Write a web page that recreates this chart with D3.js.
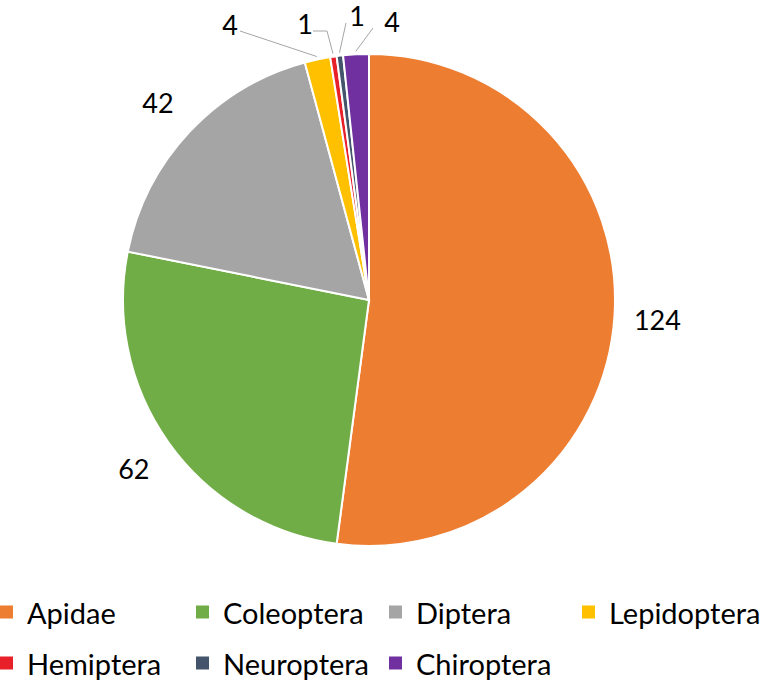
<!DOCTYPE html>
<html>
<head>
<meta charset="utf-8">
<script src="https://cdn.jsdelivr.net/npm/d3@7"></script>
<style>
  body { margin: 0; background: #fff; }
  svg { display: block; font-family: Lato, "Open Sans", sans-serif; }
</style>
</head>
<body>
<svg id="chart" width="764" height="680"></svg>
<script>
// data
const categories = ["Apidae", "Coleoptera", "Diptera", "Lepidoptera", "Hemiptera", "Neuroptera", "Chiroptera"];
const counts = [124, 62, 42, 4, 1, 1, 4];
const colours = ["#ED7D31", "#70AD47", "#A5A5A5", "#FFC000", "#E8202A", "#44546A", "#7030A0"];

const svg = d3.select("#chart");
const cx = 369, cy = 300, radius = 246;

const data = categories.map((c, i) => ({ name: c, value: counts[i], colour: colours[i] }));

const pie = d3.pie().value(d => d.value).sort(null);
const arcs = pie(data);
const arc = d3.arc().innerRadius(0).outerRadius(radius);

const g = svg.append("g").attr("transform", `translate(${cx},${cy})`);

g.selectAll("path.slice")
    .data(arcs)
  .join("path")
    .attr("class", "slice")
    .attr("d", arc)
    .attr("fill", d => d.data.colour)
    .attr("stroke", "#fff")
    .attr("stroke-width", 2);

// big slices sit on a ring, the tiny ones are pulled out with leader lines
const labelArc = d3.arc().innerRadius(radius * 1.175).outerRadius(radius * 1.175);
const edgeArc = d3.arc().innerRadius(radius + 3).outerRadius(radius + 3);
// label point relative to pie centre, leader offsets relative to the label
const smallLabel = {
    Lepidoptera: { at: [-139, -276], leader: [[10, 7]] },
    Hemiptera:   { at: [-64, -277],  leader: [[8, 8], [22, 8]] },
    Neuroptera:  { at: [-12, -285],  leader: [[-11, 8]] },
    Chiroptera:  { at: [23, -279],   leader: [[-19, 7]] }
};

arcs.forEach(d => {
    const s = smallLabel[d.data.name];
    let [lx, ly] = labelArc.centroid(d);
    if (s) {
        [lx, ly] = s.at;
        const pts = s.leader.map(p => [lx + p[0], ly + p[1]]);
        pts.push(edgeArc.centroid(d));
        g.append("path")
            .attr("d", d3.line()(pts))
            .attr("fill", "none")
            .attr("stroke", "#a6a6a6")
            .attr("stroke-width", 1);
    }
    g.append("text")
        .attr("x", lx)
        .attr("y", ly)
        .attr("text-anchor", "middle")
        .attr("dominant-baseline", "central")
        .attr("font-size", 27)
        .attr("fill", "#000")
        .text(d.data.value);
});

// legend
const legendX = [0, 196, 389, 582];
const legendY = [612, 663];
const legend = svg.append("g").attr("class", "legend");
const item = legend.selectAll("g.item")
    .data(data)
  .join("g")
    .attr("class", "item")
    .attr("transform", (d, i) => `translate(${legendX[i % 4]},${legendY[Math.floor(i / 4)]})`);

item.append("rect")
    .attr("x", 0).attr("y", -6.5)
    .attr("width", 13).attr("height", 13)
    .attr("fill", d => d.colour);

item.append("text")
    .attr("x", 27)
    .attr("y", 0)
    .attr("dominant-baseline", "central")
    .attr("font-size", 29)
    .attr("fill", "#000")
    .text(d => d.name);
</script>
</body>
</html>
